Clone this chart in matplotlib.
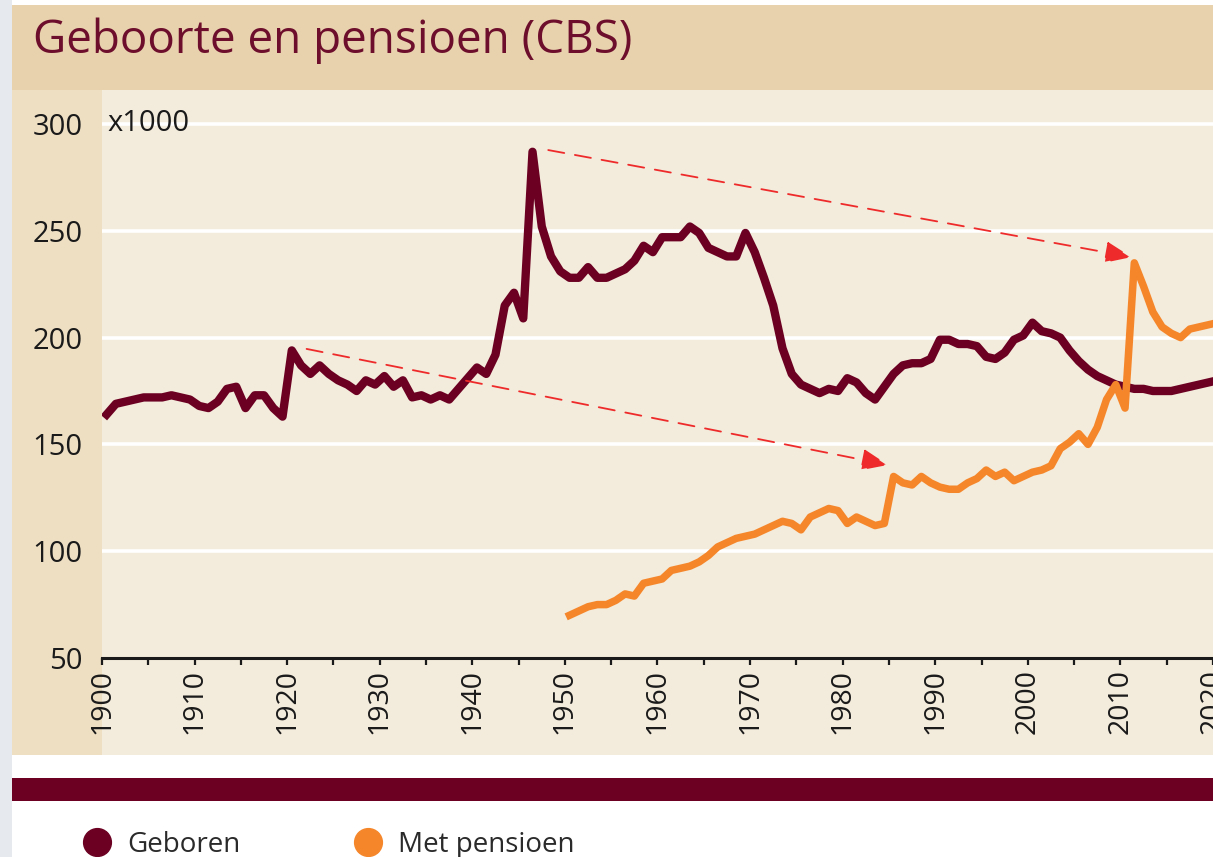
import numpy as np
import matplotlib.pyplot as plt
from matplotlib.lines import Line2D
from matplotlib.patches import Rectangle

plt.rcParams['font.family'] = ['Open Sans', 'DejaVu Sans']

# levend geborenen per jaar (x1000)
birth_years = np.arange(1900, 2021)
geboren = [
    164, 169, 170, 171, 172, 172, 172, 173, 172, 171,
    168, 167, 170, 176, 177, 167, 173, 173, 167, 163,
    194, 187, 183, 187, 183, 180, 178, 175, 180, 178,
    182, 177, 180, 172, 173, 171, 173, 171, 176, 181,
    186, 183, 192, 215, 221, 209, 287, 252, 238, 231,
    228, 228, 233, 228, 228, 230, 232, 236, 243, 240,
    247, 247, 247, 252, 249, 242, 240, 238, 238, 249,
    240, 228, 215, 195, 183, 178, 176, 174, 176, 175,
    181, 179, 174, 171, 177, 183, 187, 188, 188, 190,
    199, 199, 197, 197, 196, 191, 190, 193, 199, 201,
    207, 203, 202, 200, 194, 189, 185, 182, 180, 178,
    177, 176, 176, 175, 175, 175, 176, 177, 178, 179,
    180,
]

# personen die met pensioen gaan per jaar (x1000)
pension_years = np.arange(1950, 2021)
met_pensioen = [
    70, 72, 74, 75, 75, 77, 80, 79, 85, 86,
    87, 91, 92, 93, 95, 98, 102, 104, 106, 107,
    108, 110, 112, 114, 113, 110, 116, 118, 120, 119,
    113, 116, 114, 112, 113, 135, 132, 131, 135, 132,
    130, 129, 129, 132, 134, 138, 135, 137, 133, 135,
    137, 138, 140, 148, 151, 155, 150, 158, 171, 178,
    167, 235, 224, 212, 205, 202, 200, 204, 205, 206,
    207,
]

# pijlen: geboortegolf -> pensioengolf
arrow_start = [(1922.1, 194.7), (1948.2, 287.8)]
arrow_end = [(1984.9, 140.4), (2011.2, 237.7)]

yticks = [50, 100, 150, 200, 250, 300]
xticks = np.arange(1900, 2021, 10)

maroon = '#6b0022'
orange = '#f5862a'

W, H = 1213, 857
fig = plt.figure(figsize=(W / 100, H / 100), dpi=100)
fig.patch.set_facecolor('white')

def box(x0, y0, x1, y1, color):
    # pixel box (top-left origin) -> figure rect
    fig.add_artist(Rectangle((x0 / W, 1 - y1 / H), (x1 - x0) / W, (y1 - y0) / H,
                             transform=fig.transFigure, facecolor=color,
                             edgecolor='none', zorder=0))

box(0, 0, 12, H, '#e6eaee')
box(12, 5, W, 90, '#e8d2ad')
box(12, 90, 102, 755, '#eedfc3')
box(102, 90, W, 755, '#f3ebdb')
box(12, 778, W, 801, maroon)

fig.text(33 / W, 1 - 53 / H, 'Geboorte en pensioen (CBS)', color='#6d0f2c',
         fontsize=33, va='baseline', ha='left')

ax = fig.add_axes([102 / W, 1 - 658 / H, 1 - 102 / W, (658 - 90) / H])
ax.set_facecolor('#f3ebdb')
ax.set_xlim(1900, 2020)
ax.set_ylim(50, 50 + (658 - 90) / 2.136)

for y in yticks[1:]:
    ax.axhline(y, color='white', lw=2.6, zorder=1)

ax.plot(birth_years + 0.5, geboren, color=maroon, lw=6,
        solid_joinstyle='round', zorder=3)
ax.plot(pension_years + 0.5, met_pensioen, color=orange, lw=5.4,
        solid_joinstyle='round', zorder=3)

for s, e in zip(arrow_start, arrow_end):
    ax.annotate('', xy=e, xytext=s,
                arrowprops=dict(arrowstyle='-|>,head_length=1.1,head_width=0.45',
                                color='#ee2a2a', lw=1.3, linestyle=(0, (9, 6)),
                                mutation_scale=15, shrinkA=0, shrinkB=0),
                zorder=4)

for side in ['top', 'right', 'left']:
    ax.spines[side].set_visible(False)
ax.spines['bottom'].set_linewidth(2.2)
ax.spines['bottom'].set_color('#1a1a1a')

ax.set_xticks(xticks)
ax.set_xticks(np.arange(1905, 2020, 10), minor=True)
ax.set_xticklabels([str(x) for x in xticks], rotation=90)
ax.tick_params(axis='x', which='both', direction='out', length=5, width=1.6,
               color='#1a1a1a', labelsize=20.5, pad=3, labelcolor='#1a1a1a')
ax.set_yticks(yticks)
ax.tick_params(axis='y', length=0, pad=14, labelsize=21, labelcolor='#1a1a1a')

ax.text(1900.6, 300, 'x1000', fontsize=21, color='#1a1a1a', va='center', ha='left',
        zorder=5)

handles = [Line2D([], [], ls='none', marker='o', markersize=20, color=maroon),
           Line2D([], [], ls='none', marker='o', markersize=20, color=orange)]
fig.legend(handles, ['Geboren', 'Met pensioen'], ncol=2, frameon=False,
           loc='center left', bbox_to_anchor=(80 / W, 1 - 845 / H),
           fontsize=20, handlelength=1.2, handletextpad=0.49, columnspacing=4.0,
           borderpad=0, borderaxespad=0, labelcolor='#2a2a2a')

fig.savefig('out.png', dpi=100, facecolor=fig.get_facecolor())
